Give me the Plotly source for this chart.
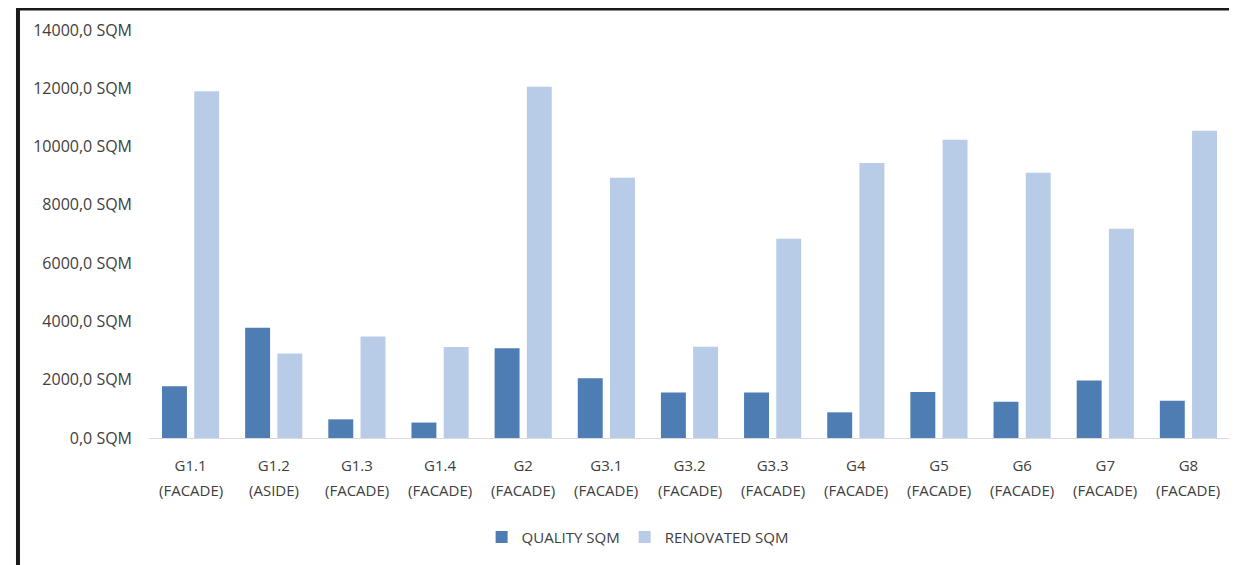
import plotly.graph_objects as go

groups = ["G1.1", "G1.2", "G1.3", "G1.4", "G2", "G3.1", "G3.2", "G3.3", "G4", "G5", "G6", "G7", "G8"]
subtypes = ["(FACADE)", "(ASIDE)", "(FACADE)", "(FACADE)", "(FACADE)", "(FACADE)", "(FACADE)",
            "(FACADE)", "(FACADE)", "(FACADE)", "(FACADE)", "(FACADE)", "(FACADE)"]
quality_sqm = [1780, 3780, 640, 530, 3080, 2050, 1560, 1560, 880, 1580, 1240, 1970, 1280]
renovated_sqm = [11900, 2900, 3480, 3120, 12050, 8930, 3130, 6840, 9440, 10230, 9100, 7180, 10540]
y_ticks = [0, 2000, 4000, 6000, 8000, 10000, 12000, 14000]
y_ticktext = [f"{v},0 SQM" for v in y_ticks]

text_color = "#404040"
font_family = "Open Sans, Liberation Sans, sans-serif"

fig = go.Figure()
fig.add_trace(go.Bar(x=groups, y=quality_sqm, name="QUALITY SQM",
                     marker=dict(color="#4d7db3", line=dict(width=0))))
fig.add_trace(go.Bar(x=groups, y=renovated_sqm, name="RENOVATED SQM",
                     marker=dict(color="#b9cce7", line=dict(width=0))))

annotations = []
for g, s in zip(groups, subtypes):
    annotations.append(dict(x=g, y=0, xref="x", yref="y", text=s, showarrow=False,
                            yshift=-52, font=dict(size=15, color=text_color, family=font_family)))

fig.update_layout(
    width=1229, height=557,
    margin=dict(l=141, r=7, t=22, b=127),
    paper_bgcolor="white", plot_bgcolor="white",
    barmode="group", bargap=0.225, bargroupgap=0.226,
    font=dict(family=font_family, color=text_color, size=15),
    showlegend=True,
    legend=dict(orientation="h", x=0.452, xanchor="center", y=-0.243, yanchor="middle",
                font=dict(size=15, color=text_color), itemwidth=30,
                traceorder="normal"),
    xaxis=dict(showline=True, linecolor="#d9d9d9", linewidth=1, showgrid=False,
               ticks="", tickfont=dict(size=15, color=text_color), ticklabelstandoff=14),
    yaxis=dict(range=[0, 14000], tickvals=y_ticks, ticktext=y_ticktext, showgrid=False,
               showline=False, zeroline=False, ticks="", ticklabelstandoff=16,
               tickfont=dict(size=16, color=text_color)),
    annotations=annotations,
    shapes=[
        dict(type="line", xref="paper", yref="paper", x0=-0.1212, x1=-0.1212, y0=1.0515, y1=-0.32,
             line=dict(color="#1a1a1a", width=4)),
        dict(type="line", xref="paper", yref="paper", x0=-0.1230, x1=1.1, y0=1.0515, y1=1.0515,
             line=dict(color="#1a1a1a", width=3)),
    ],
)

fig.write_html("out.html")
